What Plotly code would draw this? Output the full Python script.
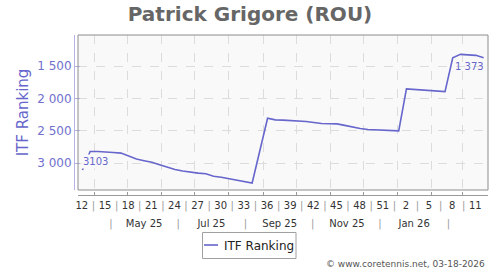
import datetime as dt
import plotly.graph_objects as go

# ---------------- data ----------------
TITLE = "Patrick Grigore (ROU)"
SERIES_NAME = "ITF Ranking"
FOOTER = "\u00a9 www.coretennis.net, 03-18-2026"

START_WEEK = "2025-03-17"          # Monday of ISO week 12, 2025 (first weekly point)
RANK = [3103, 2818, 2818, 2820, 2833, 2843, 2885, 2935, 2960, 2985,
        3023, 3065, 3095, 3120, 3140, 3152, 3162, 3200, 3215, 3240,
        3262, 3290, 3305, None, 2305, 2330, 2334, 2338, 2345, 2356,
        2370, 2387, 2390, 2392, 2415, 2443, 2465, 2479, 2485, 2490,
        2495, 2500, 1854, 1862, 1870, 1874, 1882, 1895, 1372, 1320,
        1328, 1336, 1373]

Y_TICK_VALUES = [1500, 2000, 2500, 3000]
Y_TICK_LABELS = ["1 500", "2 000", "2 500", "3 000"]

WEEK_TICK_YEARS = [2025] * 14 + [2026] * 4
WEEK_TICK_LABELS = ["12", "15", "18", "21", "24", "27", "30", "33", "36",
                    "39", "42", "45", "48", "51", "2", "5", "8", "11"]

MONTH_LABELS = ["May 25", "Jul 25", "Sep 25", "Nov 25", "Jan 26"]
MONTH_LABEL_DATES = ["2025-05-16", "2025-07-16", "2025-09-16", "2025-11-16", "2026-01-16"]
MONTH_SEPARATOR_DATES = ["2025-04-16", "2025-06-16", "2025-08-16", "2025-10-16",
                         "2025-12-16", "2026-02-16"]

FIRST_LABEL = "3103"
LAST_LABEL = "1 373"

X_RANGE = ["2025-03-17", "2026-03-24"]
Y_RANGE = [3412, 1022]

# ---------------- derived ----------------
start = dt.datetime.fromisoformat(START_WEEK)
point_dates = [start + dt.timedelta(days=7 * k + 4) for k in range(len(RANK))]

week_centers = [dt.datetime.fromisocalendar(y, int(w), 1) + dt.timedelta(days=3.5)
                for y, w in zip(WEEK_TICK_YEARS, WEEK_TICK_LABELS)]
week_seps = [week_centers[i] + (week_centers[i + 1] - week_centers[i]) / 2
             for i in range(len(week_centers) - 1)]
SEP = "<span style='color:#9a9a9a'>|</span>"
wk_ticks = sorted([(d, t) for d, t in zip(week_centers, WEEK_TICK_LABELS)] +
                  [(d, SEP) for d in week_seps], key=lambda p: p[0])
mo_ticks = sorted([(dt.datetime.fromisoformat(d), t) for d, t in zip(MONTH_LABEL_DATES, MONTH_LABELS)] +
                  [(dt.datetime.fromisoformat(d), SEP) for d in MONTH_SEPARATOR_DATES],
                  key=lambda p: p[0])

LINE = "#6666cc"
PLOT_BG = "#f9f9f9"
GRID = "#dcdcdc"
XDOM = [4 / 414, 1]
YDOM = [5 / 160, 1]

fig = go.Figure()
fig.add_trace(go.Scatter(x=point_dates, y=RANK, mode="lines", connectgaps=True,
                         line=dict(color=LINE, width=1.6), name=SERIES_NAME,
                         showlegend=False, hoverinfo="skip", xaxis="x", yaxis="y"))
for ax in ["x2", "x3", "x4"]:
    fig.add_trace(go.Scatter(x=[], y=[], xaxis=ax, yaxis="y", showlegend=False, hoverinfo="skip"))

fig.update_layout(
    width=500, height=270,
    margin=dict(l=74, r=12, t=35, b=75, pad=0),
    paper_bgcolor="white", plot_bgcolor=PLOT_BG,
    font=dict(family="DejaVu Sans", color="#333333"),
    showlegend=False,
    title=dict(text="<b>" + TITLE + "</b>", x=0.5, xanchor="center",
               y=1 - 14 / 270, yanchor="middle", font=dict(size=20, color="#666666")),
    xaxis=dict(domain=XDOM, type="date", range=X_RANGE, anchor="y",
               showgrid=True, gridcolor=GRID, griddash="dash", gridwidth=1,
               dtick="M1", tick0="2025-01-01", showticklabels=False, ticks="",
               showline=False, zeroline=False),
    xaxis2=dict(domain=XDOM, overlaying="x", anchor="free", position=0, type="date",
                range=X_RANGE, showgrid=False, showline=True, linecolor="#999999",
                linewidth=1, ticks="inside", ticklen=3, tickcolor="#999999",
                dtick="M1", tick0="2025-01-01", showticklabels=False, zeroline=False),
    xaxis3=dict(domain=XDOM, overlaying="x", anchor="free", position=0, type="date",
                range=X_RANGE, showgrid=False, showline=False, ticks="",
                tickmode="array", tickvals=[p[0] for p in wk_ticks],
                ticktext=[p[1] for p in wk_ticks], tickangle=0, ticklabelstandoff=3,
                tickfont=dict(size=10, color="#333333"), zeroline=False),
    xaxis4=dict(domain=XDOM, overlaying="x", anchor="free", position=0, type="date",
                range=X_RANGE, showgrid=False, showline=False, ticks="",
                tickmode="array", tickvals=[p[0] for p in mo_ticks],
                ticktext=[p[1] for p in mo_ticks], tickangle=0, ticklabelstandoff=21,
                tickfont=dict(size=10, color="#333333"), zeroline=False),
    yaxis=dict(domain=YDOM, range=Y_RANGE, anchor="free", position=0,
               showline=True, linecolor="#b4b4e6", linewidth=1,
               ticks="inside", ticklen=5, tickcolor="#b4b4e6",
               tickmode="array", tickvals=Y_TICK_VALUES, ticktext=Y_TICK_LABELS,
               tickfont=dict(size=12, color="#7070cc"),
               showgrid=True, gridcolor=GRID, griddash="dash", zeroline=False,
               title=dict(text=SERIES_NAME, font=dict(size=15, color="#6666cc"), standoff=3)),
)

# plot frame
fig.add_shape(type="rect", xref="x domain", yref="y domain", x0=0, x1=1, y0=0, y1=1,
              line=dict(color="#8c8c8c", width=1), fillcolor="rgba(0,0,0,0)", layer="above")

# data labels
first_idx = 0
last_idx = len(RANK) - 1
fig.add_annotation(x=point_dates[first_idx], y=RANK[first_idx], xref="x", yref="y",
                   text=FIRST_LABEL, showarrow=False, xanchor="left", yanchor="middle",
                   yshift=8, xshift=-1, bgcolor=PLOT_BG, borderpad=1,
                   font=dict(size=10, color=LINE))
fig.add_annotation(x=point_dates[last_idx], y=RANK[last_idx], xref="x", yref="y",
                   text=LAST_LABEL, showarrow=False, xanchor="right", yanchor="middle",
                   yshift=-9, xshift=2, font=dict(size=10, color=LINE))

# legend (manual)
def px_x(px):
    return (px - 74) / 414

def px_y(py):
    return (195 - py) / 160

fig.add_shape(type="rect", xref="paper", yref="paper",
              x0=px_x(202.5), x1=px_x(296), y0=px_y(258.5), y1=px_y(232.5),
              line=dict(color="#a0a0a0", width=1), fillcolor="white")
fig.add_shape(type="line", xref="paper", yref="paper",
              x0=px_x(204), x1=px_x(218), y0=px_y(245), y1=px_y(245),
              line=dict(color=LINE, width=1.6))
fig.add_annotation(x=px_x(222), y=px_y(245.5), xref="paper", yref="paper",
                   text=SERIES_NAME, showarrow=False, xanchor="left", yanchor="middle",
                   font=dict(size=12, color="#222222"))

# footer
fig.add_annotation(x=px_x(487), y=px_y(264), xref="paper", yref="paper",
                   text=FOOTER, showarrow=False, xanchor="right", yanchor="middle",
                   font=dict(size=9, color="#555555"))

fig.write_html("out.html")
